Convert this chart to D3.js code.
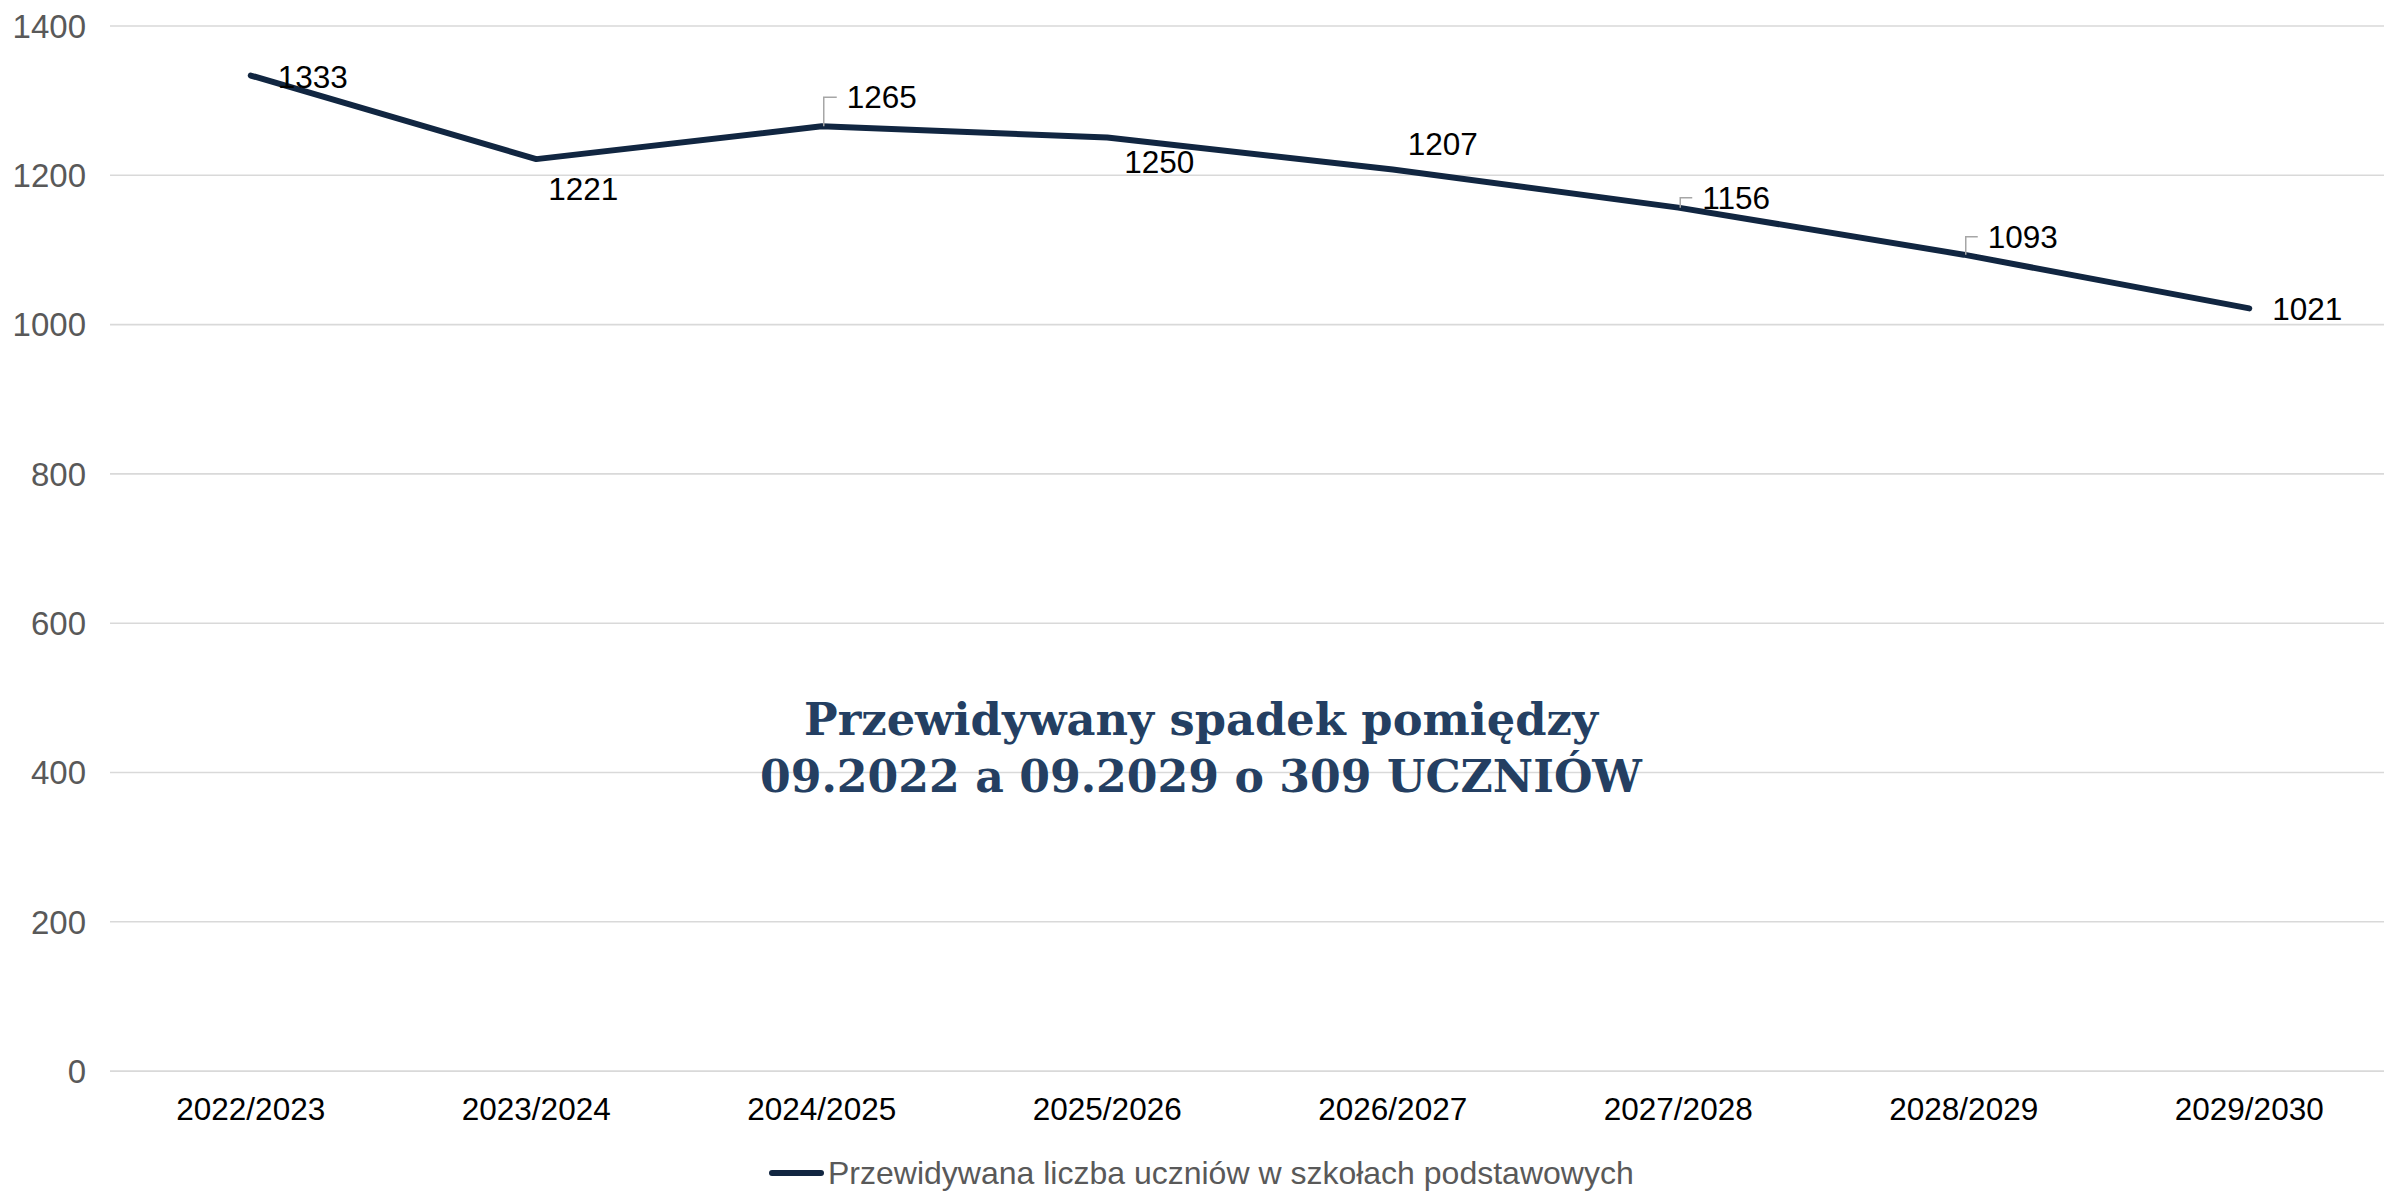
<!DOCTYPE html>
<html>
<head>
<meta charset="utf-8">
<script src="https://cdn.jsdelivr.net/npm/d3@7"></script>
<style>
  html, body { margin: 0; padding: 0; background: #ffffff; }
  svg { display: block; }
</style>
</head>
<body>
<svg id="chart" width="2384" height="1191"></svg>
<script>
// ---- data ----
const categories = ["2022/2023","2023/2024","2024/2025","2025/2026","2026/2027","2027/2028","2028/2029","2029/2030"];
const values = [1333, 1221, 1265, 1250, 1207, 1156, 1093, 1021];
const yTicks = [0, 200, 400, 600, 800, 1000, 1200, 1400];
const seriesName = "Przewidywana liczba uczniów w szkołach podstawowych";
const annotationLines = ["Przewidywany spadek pomiędzy", "09.2022 a 09.2029 o 309 UCZNIÓW"];

// ---- layout (label placement relative to the point) ----
const labelDx = [27, 12, 25, 17, 15, 24, 24, 23];
const labelDy = [12, 41, -18, 36, -15, 1, -7, 12];
const leader = [false, false, true, false, false, true, true, false];

const W = 2384, H = 1191;
const margin = { left: 108, right: 2392, top: 25.5, bottom: 1070.6 };
const svg = d3.select("#chart");

const x = d3.scaleBand().domain(categories).range([margin.left, margin.right]).padding(0);
const y = d3.scaleLinear().domain([0, 1400]).range([margin.bottom, margin.top]);
const cx = d => x(d) + x.bandwidth() / 2;

// gridlines + y axis
const yAxis = d3.axisLeft(y).tickValues(yTicks).tickSize(-(W - 110)).tickPadding(24).tickFormat(d3.format("d"));
const gy = svg.append("g").attr("transform", "translate(110,0)").call(yAxis);
gy.select(".domain").remove();
gy.selectAll(".tick line").attr("stroke", "#d9d9d9").attr("stroke-width", 1.6);
gy.selectAll(".tick text")
  .attr("fill", "#595959")
  .attr("font-family", "Arial, 'Liberation Sans', sans-serif")
  .attr("font-size", 33)
  .attr("dy", "0.36em");

// x axis
const xAxis = d3.axisBottom(x).tickSize(0).tickPadding(0);
const gx = svg.append("g").attr("transform", `translate(0,${margin.bottom})`).call(xAxis);
gx.select(".domain").remove();
gx.selectAll(".tick text")
  .attr("y", 49.4).attr("dy", 0)
  .attr("fill", "#000000")
  .attr("font-family", "Arial, 'Liberation Sans', sans-serif")
  .attr("font-size", 31.5);

// annotation
const ann = svg.append("g");
const annWidths = [794, 882];
const annBase = [735, 792];
annotationLines.forEach((t, i) => {
  ann.append("text")
    .attr("x", 1201).attr("y", annBase[i])
    .attr("text-anchor", "middle")
    .attr("font-family", "Georgia, 'DejaVu Serif', serif")
    .attr("font-weight", "bold")
    .attr("font-size", 45)
    .attr("fill", "#243f62")
    .attr("textLength", annWidths[i])
    .attr("lengthAdjust", "spacingAndGlyphs")
    .text(t);
});

// line
const data = categories.map((c, i) => ({ c, v: values[i], i }));
const line = d3.line().x(d => cx(d.c)).y(d => y(d.v));
svg.append("path")
  .datum(data)
  .attr("d", line)
  .attr("fill", "none")
  .attr("stroke", "#112641")
  .attr("stroke-width", 6)
  .attr("stroke-linejoin", "round")
  .attr("stroke-linecap", "round");

// leader lines
const lg = svg.append("g");
data.filter(d => leader[d.i]).forEach(d => {
  const px = cx(d.c), py = y(d.v);
  const ty = py + labelDy[d.i] - 11;
  lg.append("path")
    .attr("d", `M${px + 2},${py} L${px + 2},${ty} L${px + labelDx[d.i] - 10},${ty}`)
    .attr("fill", "none")
    .attr("stroke", "#a6a6a6")
    .attr("stroke-width", 1.5);
});

// data labels
svg.append("g").selectAll("text")
  .data(data)
  .join("text")
  .attr("x", d => cx(d.c) + labelDx[d.i])
  .attr("y", d => y(d.v) + labelDy[d.i])
  .attr("font-family", "Arial, 'Liberation Sans', sans-serif")
  .attr("font-size", 31.5)
  .attr("fill", "#000000")
  .text(d => d.v);

// legend
const leg = svg.append("g");
leg.append("line")
  .attr("x1", 772).attr("x2", 821).attr("y1", 1173).attr("y2", 1173)
  .attr("stroke", "#112641").attr("stroke-width", 6).attr("stroke-linecap", "round");
leg.append("text")
  .attr("x", 828).attr("y", 1184)
  .attr("font-family", "Arial, 'Liberation Sans', sans-serif")
  .attr("font-size", 32)
  .attr("fill", "#595959")
  .text(seriesName);
</script>
</body>
</html>
